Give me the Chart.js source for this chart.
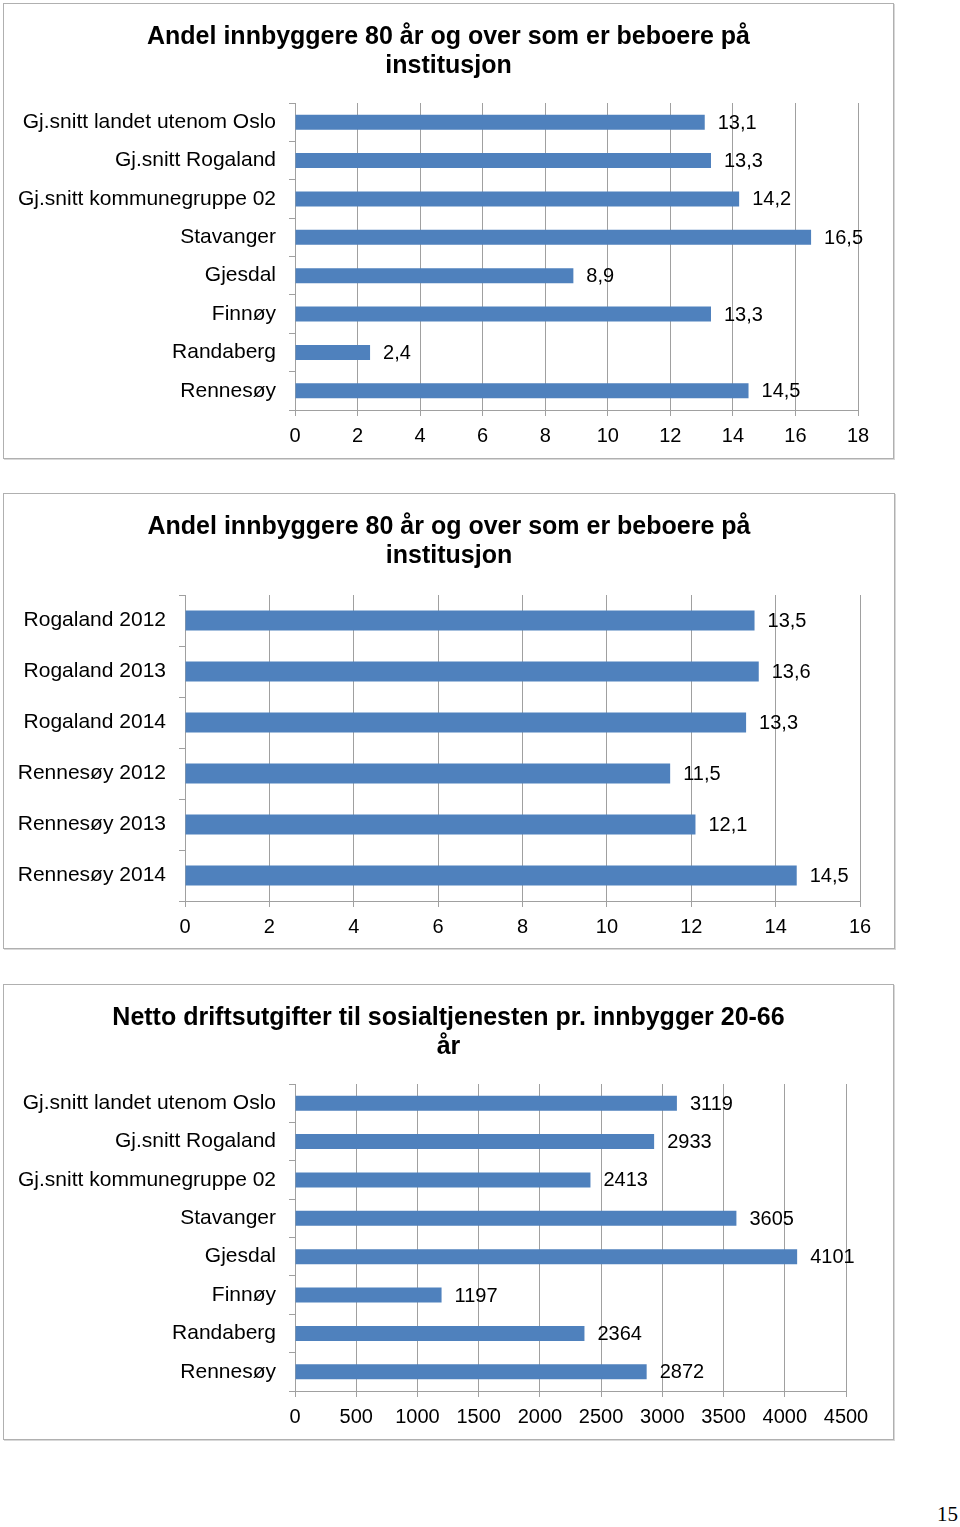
<!DOCTYPE html>
<html>
<head>
<meta charset="utf-8">
<script src="https://cdn.jsdelivr.net/npm/chart.js@4/dist/chart.umd.min.js"></script>
<style>
  body { margin: 0; background: #fff; width: 960px; height: 1527px; position: relative; }
  .box { position: absolute; border: 1px solid #b0b0b0; box-shadow: 1px 1px 0 #d8d8d8; background: #fff; }
  .box canvas { position: absolute; left: 1px; top: 1px; }
  #page { position: absolute; left: 937px; top: 1502px; font: 21px "Liberation Serif", "DejaVu Serif", serif; color: #000; }
</style>
</head>
<body>
<div class="box" style="left:3px;top:3px;width:889px;height:454px;"><canvas id="chart1" width="887" height="452"></canvas></div>
<div class="box" style="left:3px;top:493px;width:890px;height:454px;"><canvas id="chart2" width="888" height="452"></canvas></div>
<div class="box" style="left:3px;top:984px;width:889px;height:454px;"><canvas id="chart3" width="887" height="452"></canvas></div>
<div id="page">15</div>
<script>
// data
const kommuner = ['Gj.snitt landet utenom Oslo', 'Gj.snitt Rogaland', 'Gj.snitt kommunegruppe 02',
  'Stavanger', 'Gjesdal', 'Finnøy', 'Randaberg', 'Rennesøy'];
const institusjonAndel = [13.1, 13.3, 14.2, 16.5, 8.9, 13.3, 2.4, 14.5];

const aarKategorier = ['Rogaland 2012', 'Rogaland 2013', 'Rogaland 2014',
  'Rennesøy 2012', 'Rennesøy 2013', 'Rennesøy 2014'];
const institusjonAar = [13.5, 13.6, 13.3, 11.5, 12.1, 14.5];

const sosialUtgifter = [3119, 2933, 2413, 3605, 4101, 1197, 2364, 2872];

const title1 = ['Andel innbyggere 80 år og over som er beboere på', 'institusjon'];
const title3 = ['Netto driftsutgifter til sosialtjenesten pr. innbygger 20-66', 'år'];

const FONT = '"Liberation Sans", Arial, sans-serif';
const BAR = '#4F81BD';
const GRID = '#a0a0a0';

// value labels to the right of each bar
const valueLabels = {
  id: 'valueLabels',
  afterDatasetsDraw(chart, args, opts) {
    const ctx = chart.ctx;
    ctx.save();
    ctx.font = '20px ' + FONT;
    ctx.fillStyle = '#000';
    ctx.textBaseline = 'middle';
    ctx.textAlign = 'left';
    const ds = chart.data.datasets[0];
    chart.getDatasetMeta(0).data.forEach((bar, i) => {
      const v = ds.data[i];
      const txt = opts.decimals ? v.toFixed(1).replace('.', ',') : String(v);
      ctx.fillText(txt, bar.x + 13, bar.y + 1);
    });
    ctx.restore();
  }
};

// an empty axis on the right keeps room there, so the title stays centred in the box
function makeChart(id, labels, values, titleLines, max, step, yWidth, rightGap, decimals, titleGap, xHeight) {
  return new Chart(document.getElementById(id), {
    type: 'bar',
    data: {
      labels: labels,
      datasets: [{ data: values, yAxisID: 'y', backgroundColor: BAR, categoryPercentage: 0.8, barPercentage: 0.49 }]
    },
    options: {
      indexAxis: 'y',
      responsive: false,
      animation: false,
      layout: { padding: 0 },
      plugins: {
        legend: { display: false },
        tooltip: { enabled: false },
        title: {
          display: true,
          text: titleLines,
          color: '#000',
          font: { family: FONT, size: 25, weight: 'bold', lineHeight: 1.16 },
          padding: { top: 18, bottom: titleGap }
        },
        valueLabels: { decimals: decimals }
      },
      scales: {
        x: {
          min: 0,
          max: max,
          ticks: {
            stepSize: step, color: '#000', font: { family: FONT, size: 20 }, padding: 8, maxRotation: 0,
            callback: v => String(v)
          },
          grid: { color: GRID, tickLength: 6 },
          border: { color: GRID },
          afterFit(scale) { scale.height = xHeight; }
        },
        y: {
          ticks: { color: '#000', font: { family: FONT, size: 21 }, padding: 13 },
          grid: { color: GRID, drawOnChartArea: false, tickLength: 6, offset: true },
          border: { color: GRID },
          afterFit(scale) { scale.width = yWidth; }
        },
        gap: {
          type: 'linear',
          axis: 'y',
          position: 'right',
          ticks: { display: false },
          grid: { display: false },
          border: { display: false },
          afterFit(scale) { scale.width = rightGap; }
        }
      }
    },
    plugins: [valueLabels]
  });
}

makeChart('chart1', kommuner, institusjonAndel, title1, 18, 2, 290, 34, true, 22, 47);
makeChart('chart2', aarKategorier, institusjonAar, title1, 16, 2, 180, 33, true, 24, 46);
makeChart('chart3', kommuner, sosialUtgifter, title3, 4500, 500, 290, 46, false, 22, 47);
</script>
</body>
</html>
